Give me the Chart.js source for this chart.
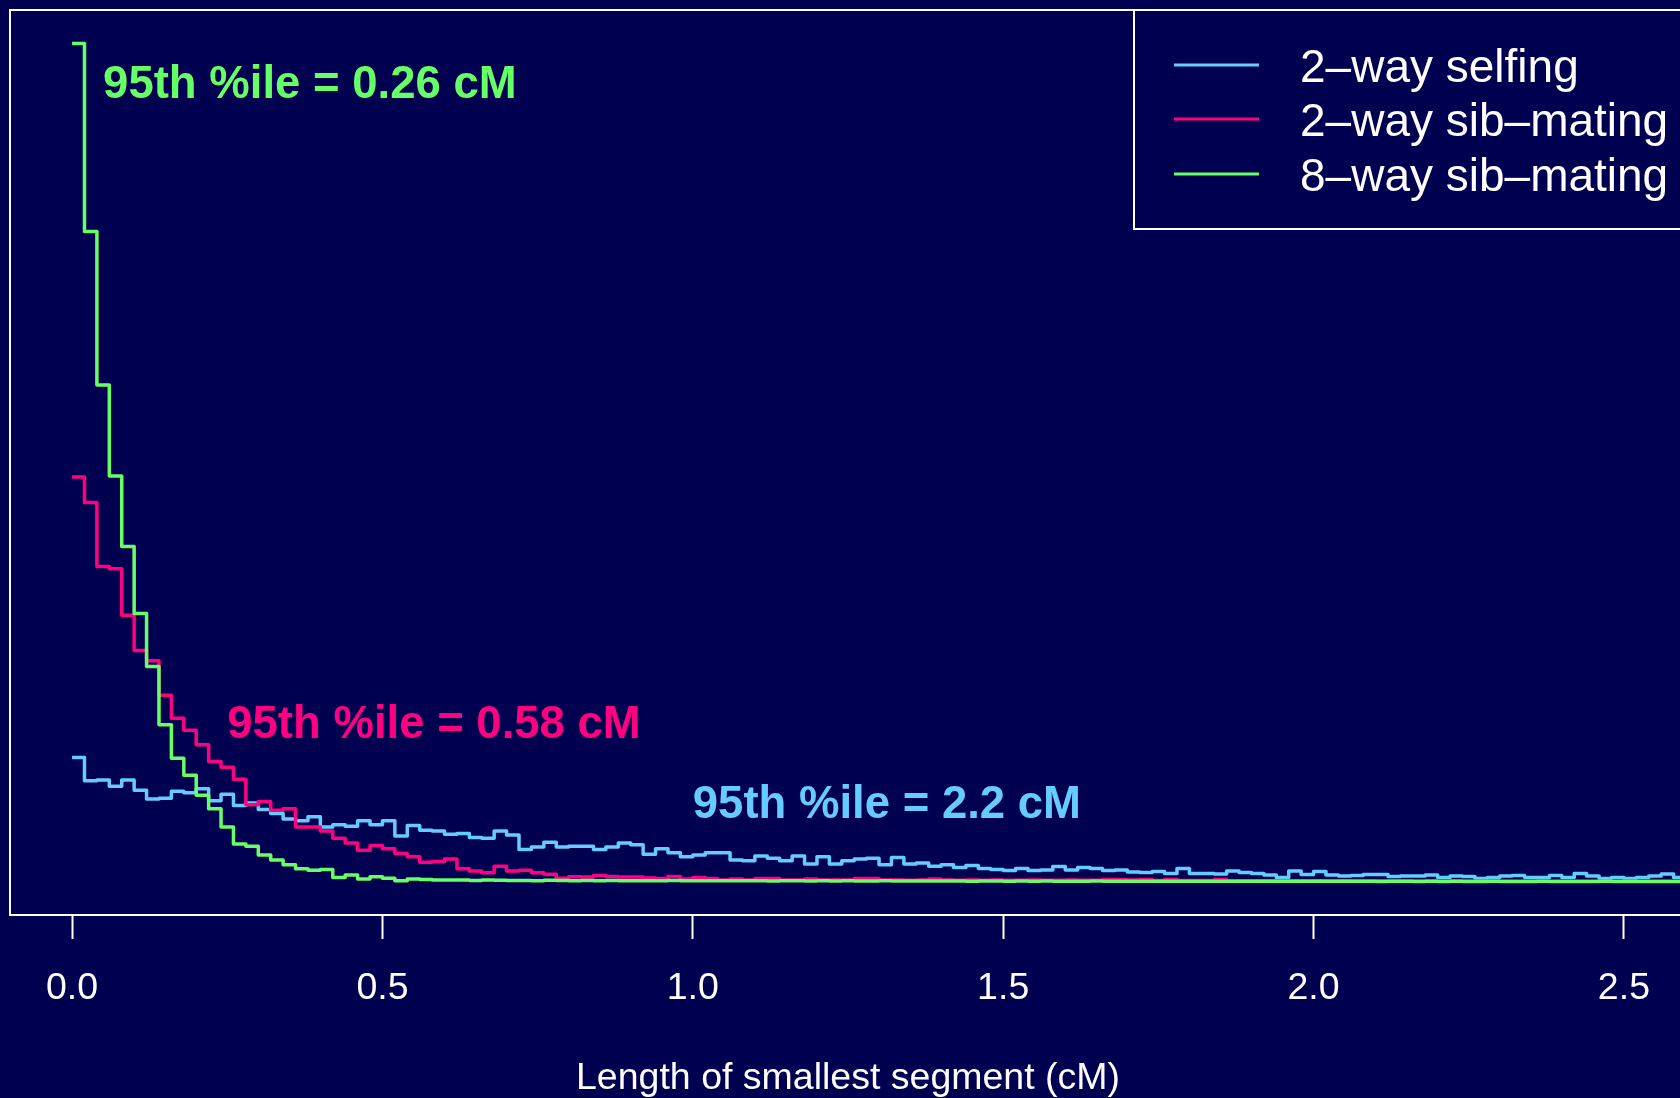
<!DOCTYPE html>
<html>
<head>
<meta charset="utf-8">
<title>Length of smallest segment</title>
<script src="https://cdn.jsdelivr.net/npm/chart.js@4.4.1/dist/chart.umd.min.js"></script>
<style>
  html, body { margin: 0; padding: 0; background: #000050; overflow: hidden; }
  canvas { display: block; }
</style>
</head>
<body>
<canvas id="chart" width="1700" height="1098"></canvas>
<script>
// histogram bins are 0.02 cM wide, starting at 0
const binWidth = 0.02;

const seriesNames = ['2\u2013way selfing', '2\u2013way sib\u2013mating', '8\u2013way sib\u2013mating'];

// density per bin
const selfing2 = [
  1.55, 1.26, 1.27, 1.19, 1.27, 1.14, 1.03, 1.04, 1.13, 1.11, 1.16, 1.01, 1.09, 0.95, 0.98, 0.90, 0.85, 0.78, 0.76, 0.81,
  0.68, 0.71, 0.69, 0.76, 0.71, 0.76, 0.57, 0.70, 0.64, 0.63, 0.59, 0.60, 0.55, 0.54, 0.63, 0.58,
  0.40, 0.43, 0.49, 0.43, 0.44, 0.44, 0.40, 0.43, 0.48, 0.46, 0.34, 0.41, 0.36, 0.31, 0.33, 0.36, 0.36, 0.27, 0.26, 0.32,
  0.29, 0.26, 0.32, 0.22, 0.31, 0.22, 0.26, 0.28, 0.29, 0.21, 0.30, 0.22, 0.23, 0.19, 0.21,
  0.175, 0.20, 0.163, 0.15, 0.138, 0.163, 0.138, 0.144, 0.188, 0.144, 0.175, 0.163, 0.138, 0.144, 0.119, 0.113, 0.125,
  0.10, 0.163, 0.10, 0.10, 0.094, 0.131, 0.113, 0.10, 0.081, 0.05, 0.131, 0.088, 0.125, 0.081, 0.069, 0.075, 0.088, 0.088,
  0.063, 0.069, 0.069, 0.081, 0.05, 0.069, 0.063, 0.038, 0.05, 0.069, 0.075, 0.05, 0.05, 0.075, 0.05, 0.10, 0.069,
  0.038, 0.05, 0.038, 0.05, 0.069, 0.094, 0.05
];

const sibMating2 = [
  5.06, 4.74, 3.94, 3.91, 3.33, 2.89, 2.76, 2.33, 2.04, 1.89, 1.71, 1.50, 1.43, 1.28, 0.96, 1.00, 0.89, 0.91, 0.68, 0.68,
  0.63, 0.54, 0.48, 0.39, 0.45, 0.41, 0.35, 0.31, 0.24, 0.25, 0.28,
  0.16, 0.13, 0.11, 0.19, 0.13, 0.14, 0.11, 0.09, 0.04, 0.06, 0.056, 0.075, 0.063, 0.056, 0.056, 0.044, 0.038, 0.063,
  0.031, 0.05, 0.038,
  0.019, 0.031, 0.019, 0.038, 0.038, 0.019, 0.019, 0.031, 0.019, 0.019, 0.019, 0.038, 0.038, 0.019, 0.019, 0.015,
  0.019, 0.031, 0.019, 0.015, 0.019, 0.015, 0.019, 0.015, 0.015, 0.019, 0.015, 0.015, 0.019, 0.015, 0.015,
  0.025, 0.025, 0.019, 0.025, 0.012, 0.025, 0.012, 0.012, 0.012, 0.025, 0.01, 0.01, 0.008, 0.01, 0.008, 0.008, 0.01,
  0.008, 0.006, 0.008, 0.006, 0.006, 0.008, 0.006, 0.005, 0.006, 0.005, 0.005, 0.006, 0.005, 0.004, 0.005, 0.004,
  0.004, 0.005, 0.004, 0.004, 0.003, 0.004, 0.003, 0.003, 0.004, 0.003, 0.003, 0.003, 0.002, 0.003
];

const sibMating8 = [
  10.48, 8.13, 6.21, 5.07, 4.19, 3.35, 2.69, 1.96, 1.54, 1.33, 1.08, 0.91, 0.68, 0.47, 0.44, 0.33, 0.27, 0.21, 0.16, 0.14,
  0.15, 0.05, 0.08, 0.03, 0.06, 0.04, 0.01, 0.03, 0.025, 0.02, 0.02, 0.018, 0.012, 0.02, 0.015, 0.012,
  0.012, 0.01, 0.015, 0.012, 0.01, 0.012, 0.01, 0.012, 0.01, 0.008,
  0.01, 0.008, 0.012, 0.01, 0.008, 0.01, 0.008, 0.008, 0.01, 0.008, 0.006, 0.008, 0.01, 0.006, 0.008,
  0.006, 0.008, 0.006, 0.006, 0.008, 0.006, 0.005, 0.006, 0.006, 0.005, 0.006, 0.004, 0.005, 0.006, 0.004, 0.005,
  0.004, 0.005, 0.004, 0.004,
  0.004, 0.005, 0.004, 0.003, 0.004, 0.003, 0.004, 0.003, 0.003, 0.004, 0.003, 0.002, 0.003, 0.003, 0.002, 0.003,
  0.002, 0.003, 0.002, 0.002,
  0.002, 0.003, 0.002, 0.002, 0.001, 0.002, 0.002, 0.001, 0.002, 0.001, 0.002, 0.001, 0.001, 0.002, 0.001, 0.001,
  0.001, 0.002, 0.001, 0.001, 0.001, 0.001, 0.002, 0.001, 0.001, 0.001, 0.001, 0.001, 0.001
];

const xTicks = [0, 0.5, 1.0, 1.5, 2.0, 2.5];
const xLimits = [0, 2.5];

// 95th percentile notes
const noteTexts = ['95th %ile = 0.26 cM', '95th %ile = 0.58 cM', '95th %ile = 2.2 cM'];
const noteX = [0.05, 0.25, 1.0];
const noteY = [10.0, 2.0, 1.0];

const bgColor = '#000050';
const blue = '#66CCFF', pink = '#FF0080', green = '#66FF66';
const fontFamily = '"Liberation Sans", Arial, Helvetica, sans-serif';

// turn bin heights into step points (left edge of each bin + closing edge)
function toSteps(values) {
    const pts = values.map((v, i) => ({ x: i * binWidth, y: v }));
    pts.push({ x: values.length * binWidth, y: values[values.length - 1] });
    return pts;
}

// R-style 4% padding on both axes
const yMax = Math.max(...sibMating8);
const yPad = 0.04 * yMax;
const xPad = 0.04 * (xLimits[1] - xLimits[0]);

const rPlotExtras = {
    id: 'rPlotExtras',
    beforeDraw(chart) {
        const ctx = chart.ctx;
        ctx.save();
        ctx.fillStyle = bgColor;
        ctx.fillRect(0, 0, chart.width, chart.height);
        ctx.restore();
    },
    afterDraw(chart) {
        const { ctx, chartArea: area, scales } = chart;
        ctx.save();

        // plot frame
        ctx.strokeStyle = '#ffffff';
        ctx.lineWidth = 2;
        ctx.strokeRect(area.left, area.top, area.right - area.left, area.bottom - area.top);

        // percentile notes (canvas "middle" sits a bit high compared to R)
        const noteColors = [green, pink, blue];
        ctx.font = 'bold 45.5px ' + fontFamily;
        ctx.textAlign = 'left';
        ctx.textBaseline = 'middle';
        noteTexts.forEach((t, i) => {
            ctx.fillStyle = noteColors[i];
            ctx.fillText(t, scales.x.getPixelForValue(noteX[i]), scales.y.getPixelForValue(noteY[i]) + 4);
        });

        // legend box, top right
        const legLeft = 1134, legBottom = 229;
        ctx.strokeRect(legLeft, area.top, area.right - legLeft, legBottom - area.top);
        const legColors = [blue, pink, green];
        const rowY = [65, 119, 174];
        ctx.font = '46px ' + fontFamily;
        ctx.lineWidth = 3;
        seriesNames.forEach((name, i) => {
            ctx.strokeStyle = legColors[i];
            ctx.beginPath();
            ctx.moveTo(1174, rowY[i]);
            ctx.lineTo(1259, rowY[i]);
            ctx.stroke();
            ctx.fillStyle = '#ffffff';
            ctx.fillText(name, 1300, rowY[i] + 4);
        });
        ctx.restore();
    }
};

const lineStyle = { borderWidth: 3.5, pointRadius: 0, fill: false, stepped: true, tension: 0, borderJoinStyle: 'round' };

// dataset 0 is drawn on top, so green comes first
new Chart(document.getElementById('chart'), {
    type: 'line',
    data: {
        datasets: [
            { label: seriesNames[2], data: toSteps(sibMating8), borderColor: green, ...lineStyle },
            { label: seriesNames[1], data: toSteps(sibMating2), borderColor: pink, ...lineStyle },
            { label: seriesNames[0], data: toSteps(selfing2), borderColor: blue, ...lineStyle }
        ]
    },
    options: {
        responsive: false,
        animation: false,
        layout: { padding: { left: 10, right: 14, top: 10, bottom: 0 } },
        plugins: {
            legend: { display: false },
            tooltip: { enabled: false }
        },
        scales: {
            x: {
                type: 'linear',
                min: xLimits[0] - xPad,
                max: xLimits[1] + xPad,
                afterBuildTicks: scale => { scale.ticks = xTicks.map(v => ({ value: v })); },
                afterFit: scale => { scale.height = 183; },
                grid: { display: true, drawOnChartArea: false, drawTicks: true, tickLength: 24, tickColor: '#ffffff', tickWidth: 2 },
                border: { display: true, color: '#ffffff', width: 2 },
                ticks: {
                    color: '#ffffff',
                    padding: 27,
                    maxRotation: 0,
                    autoSkip: false,
                    font: { family: fontFamily, size: 37.5 },
                    callback: v => v.toFixed(1)
                },
                title: {
                    display: true,
                    text: 'Length of smallest segment (cM)',
                    color: '#ffffff',
                    font: { family: fontFamily, size: 37.5, lineHeight: 1 },
                    padding: { top: 0, bottom: 1 }
                }
            },
            y: {
                display: false,
                min: -yPad,
                max: yMax + yPad
            }
        }
    },
    plugins: [rPlotExtras]
});
</script>
</body>
</html>
